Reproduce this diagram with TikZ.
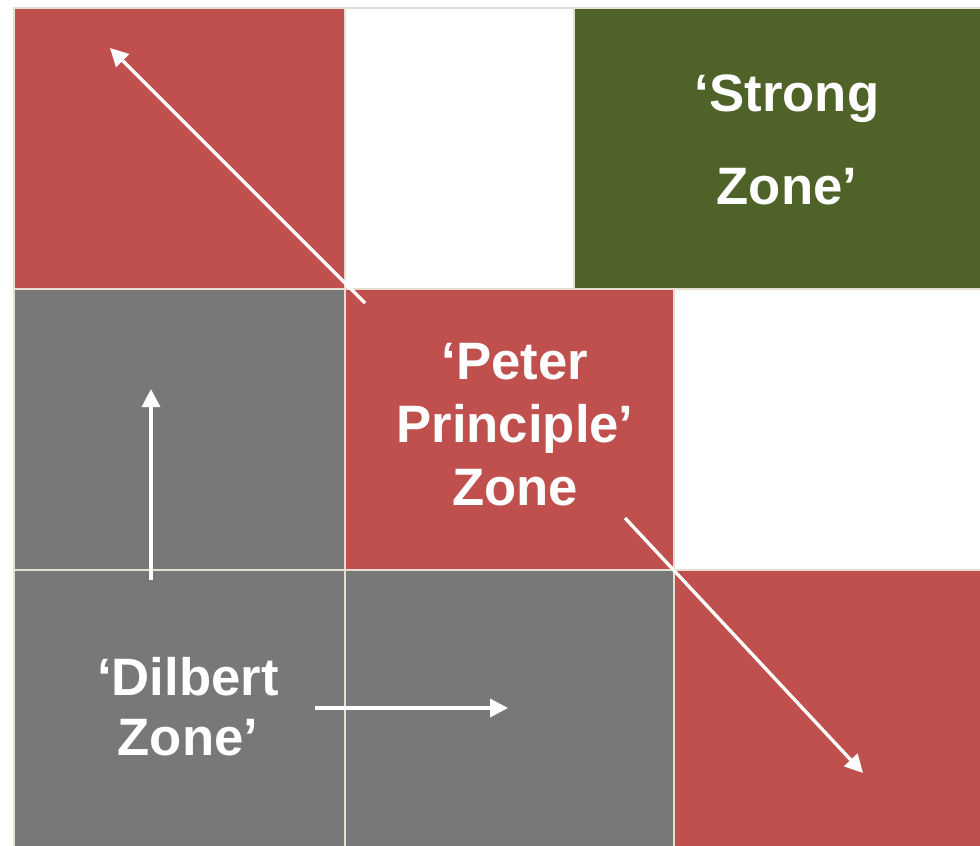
\documentclass[tikz,border=0pt]{standalone}
\usepackage{fontspec}
\setmainfont{Liberation Sans}
\usetikzlibrary{arrows.meta}
\definecolor{zonered}{HTML}{C0504D}
\definecolor{zonegreen}{HTML}{4F6228}
\definecolor{zonegray}{HTML}{787878}
\definecolor{gridline}{HTML}{E6DED2}
\begin{document}
\begin{tikzpicture}[x=0.75pt,y=-0.75pt,
  cell/.style={draw=gridline,line width=1.1pt},
  label/.style={text=white,anchor=base,inner sep=0pt,
    font=\fontsize{39.5}{46}\selectfont\bfseries},
  flow/.style={draw=white,line width=2.5pt,
    -{Triangle[length=13.5pt,width=13.5pt]}}]
\useasboundingbox (0,0) rectangle (980,845);
\fill[white] (0,0) rectangle (980,845);
% top row
\draw[cell,fill=zonered]   (14,8)  rectangle (345,289);
\draw[cell,fill=white]     (345,8) rectangle (574,289);
\draw[cell,fill=zonegreen] (574,8) rectangle (985,289);
% middle row
\draw[cell,fill=zonegray]  (14,289)  rectangle (345,570);
\draw[cell,fill=zonered]   (345,289) rectangle (674,570);
\draw[cell,fill=white]     (674,289) rectangle (985,570);
% bottom row
\draw[cell,fill=zonegray]  (14,570)  rectangle (345,850);
\draw[cell,fill=zonegray]  (345,570) rectangle (674,850);
\draw[cell,fill=zonered]   (674,570) rectangle (985,850);
% zone labels
\node[label] (strong1) at (787,112) {‘Strong};
\node[label] (strong2) at (787,204) {Zone’};
\node[label] (peter1) at (515,379) {‘Peter};
\node[label] (peter2) at (515,442) {Principle’};
\node[label] (peter3) at (515,505) {Zone};
\node[label] (dilbert1) at (188,695) {‘Dilbert};
\node[label] (dilbert2) at (188,755) {Zone’};
% arrow end points
\coordinate (d1s) at (365,303);
\coordinate (d1e) at (110,48);
\coordinate (d2s) at (625,518);
\coordinate (d2e) at (863,773);
\coordinate (ups) at (151,580);
\coordinate (upe) at (151,389);
\coordinate (rts) at (315,708);
\coordinate (rte) at (508,708);
\draw[flow] (d1s) -- (d1e);
\draw[flow] (d2s) -- (d2e);
\draw[flow] (ups) -- (upe);
\draw[flow] (rts) -- (rte);
\end{tikzpicture}
\end{document}
